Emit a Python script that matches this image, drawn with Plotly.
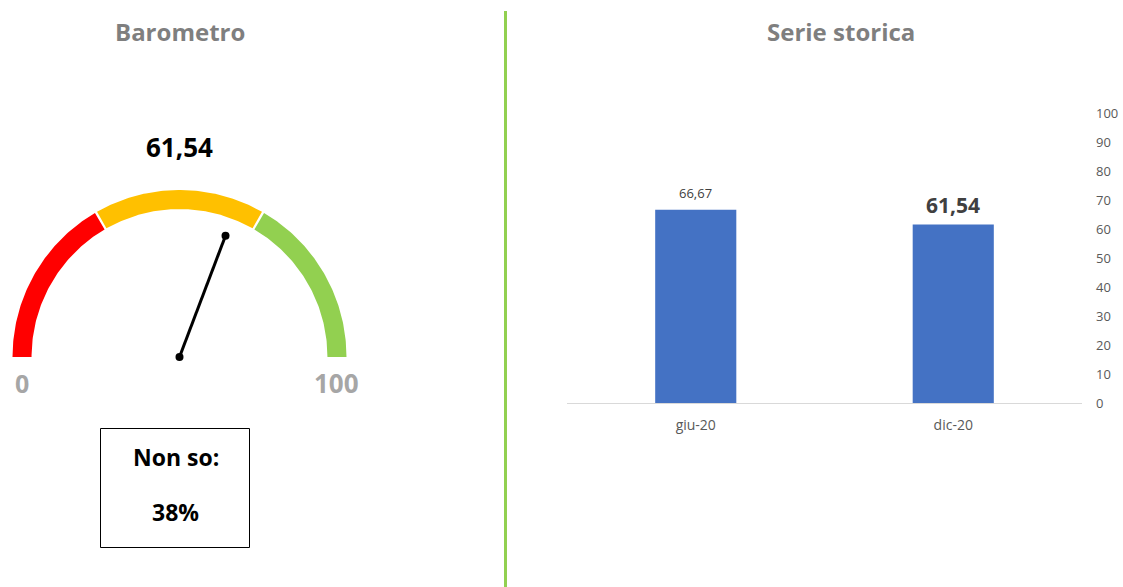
import numpy as np
import plotly.graph_objects as go

# Gauge data
gauge_value = 61.54
gauge_min, gauge_max = 0, 100
gauge_bands = [0, 33.33, 66.67, 100]
band_colors = ["#FF0000", "#FFC000", "#92D050"]
unknown_label = "Non so:"
unknown_share = 38

# Historical series
periods = ["giu-20", "dic-20"]
period_values = [66.67, 61.54]
y_ticks = list(range(0, 101, 10))

W, H = 1123, 587
FONT = "Open Sans"
BAR_COLOR = "#4472C4"


def fmt(v):
    return f"{v:.2f}".replace(".", ",")


def px_x(x):
    return x / W


def px_y(y):
    return 1 - y / H


def angle(v):
    return np.pi * (1 - (v - gauge_min) / (gauge_max - gauge_min))


fig = go.Figure()

# Gauge geometry in radius units (outer radius = 1)
R_OUT, R_IN = 1.0, 0.886
SCALE = 167.0            # pixels per radius unit
CX_PX, CY_PX = 179.5, 357.0
GAUGE_W_PX = 505.0
gap = 0.45               # small value gap between bands

for i, col in enumerate(band_colors):
    a, b = gauge_bands[i], gauge_bands[i + 1]
    if i > 0:
        a += gap / 2
    if i < len(band_colors) - 1:
        b -= gap / 2
    t = np.linspace(angle(a), angle(b), 80)
    xs = np.concatenate([R_OUT * np.cos(t), R_IN * np.cos(t[::-1])])
    ys = np.concatenate([R_OUT * np.sin(t), R_IN * np.sin(t[::-1])])
    fig.add_trace(go.Scatter(
        x=xs, y=ys, fill="toself", fillcolor=col, mode="lines",
        line=dict(width=0, color=col), hoverinfo="skip", showlegend=False,
        xaxis="x2", yaxis="y2"))

# Needle
needle_len = 0.777
th = angle(gauge_value)
fig.add_trace(go.Scatter(
    x=[0, needle_len * np.cos(th)], y=[0, needle_len * np.sin(th)],
    mode="lines+markers", line=dict(color="black", width=3),
    marker=dict(color="black", size=8), hoverinfo="skip", showlegend=False,
    xaxis="x2", yaxis="y2"))

# Bars
fig.add_trace(go.Bar(
    x=periods, y=period_values, marker=dict(color=BAR_COLOR, line=dict(width=0)),
    width=0.315, showlegend=False, hoverinfo="skip", xaxis="x", yaxis="y"))


def paper_text(text, x, y, size, color):
    return dict(text=text, x=px_x(x), y=px_y(y), xref="paper", yref="paper",
                xanchor="center", yanchor="middle", showarrow=False,
                font=dict(family=FONT, size=size, color=color))


annotations = [
    paper_text("<b>Barometro</b>", 179.5, 31, 24, "#7F7F7F"),
    paper_text("<b>Serie storica</b>", 841, 31, 24, "#7F7F7F"),
    paper_text(f"<b>{unknown_label}</b>", 175.5, 457, 23, "black"),
    paper_text(f"<b>{unknown_share}%</b>", 175, 512, 23, "black"),
    dict(text=f"<b>{fmt(gauge_value)}</b>", x=0, y=(CY_PX - 147) / SCALE,
         xref="x2", yref="y2", xanchor="center", yanchor="middle", showarrow=False,
         font=dict(family=FONT, size=26, color="black")),
    dict(text=f"<b>{gauge_min}</b>", x=-(R_OUT + R_IN) / 2, y=-26 / SCALE,
         xref="x2", yref="y2", xanchor="center", yanchor="middle", showarrow=False,
         font=dict(family=FONT, size=25, color="#A6A6A6")),
    dict(text=f"<b>{gauge_max}</b>", x=(R_OUT + R_IN) / 2, y=-26 / SCALE,
         xref="x2", yref="y2", xanchor="center", yanchor="middle", showarrow=False,
         font=dict(family=FONT, size=26, color="#A6A6A6")),
]

# Data labels above the bars: latest period highlighted
for i, (p, v) in enumerate(zip(periods, period_values)):
    last = i == len(periods) - 1
    annotations.append(dict(
        text=f"<b>{fmt(v)}</b>" if last else fmt(v),
        x=p, y=v, xref="x", yref="y", xanchor="center", yanchor="middle",
        showarrow=False, yshift=19.5 if last else 17,
        font=dict(family=FONT, size=21 if last else 13, color="#404040")))

shapes = [
    # divider between the two panels
    dict(type="line", xref="paper", yref="paper", x0=px_x(505.5), x1=px_x(505.5),
         y0=px_y(11), y1=0, line=dict(color="#92D050", width=3)),
    # "Non so" box
    dict(type="rect", xref="paper", yref="paper", x0=px_x(100.5), x1=px_x(249.5),
         y0=px_y(428.5), y1=px_y(547.5), line=dict(color="black", width=1)),
]

fig.update_layout(
    width=W, height=H, autosize=False, margin=dict(l=0, r=0, t=0, b=0, pad=0),
    paper_bgcolor="white", plot_bgcolor="rgba(0,0,0,0)",
    font=dict(family=FONT, color="#595959"),
    annotations=annotations, shapes=shapes,
    xaxis=dict(domain=[567 / W, 1082 / W], anchor="y", showgrid=False, zeroline=False,
               showline=True, linecolor="#D9D9D9", linewidth=1, ticks="",
               tickfont=dict(family=FONT, size=14, color="#595959"),
               ticklabelstandoff=9, fixedrange=True, automargin=False),
    yaxis=dict(domain=[(H - 403) / H, (H - 113) / H], range=[0, 100], side="right",
               anchor="x", tickvals=y_ticks, showgrid=False, zeroline=False,
               showline=False, ticks="",
               tickfont=dict(family=FONT, size=13, color="#595959"),
               ticklabelstandoff=13, fixedrange=True, automargin=False),
    xaxis2=dict(domain=[0, GAUGE_W_PX / W], anchor="y2",
                range=[-CX_PX / SCALE, (GAUGE_W_PX - CX_PX) / SCALE],
                visible=False, fixedrange=True),
    yaxis2=dict(domain=[0, 1], anchor="x2",
                range=[-(H - CY_PX) / SCALE, CY_PX / SCALE],
                visible=False, fixedrange=True),
)

fig.write_html("out.html", config={"responsive": False, "displayModeBar": False})
